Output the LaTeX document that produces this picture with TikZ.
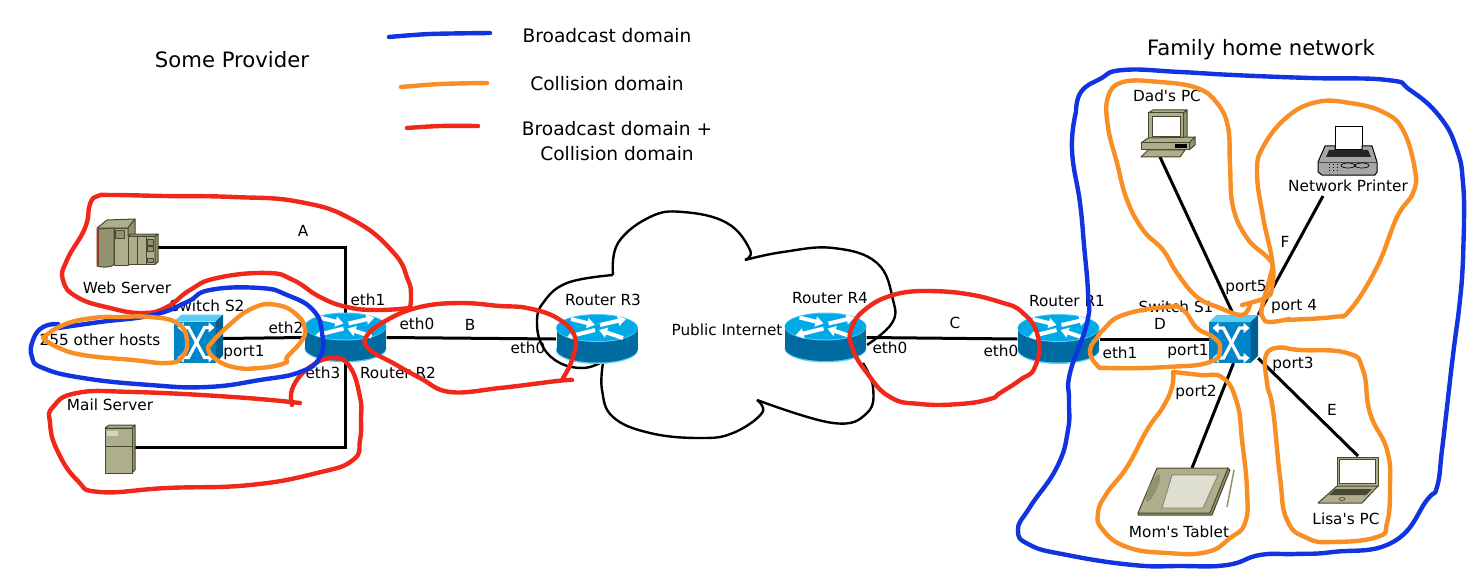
\documentclass[tikz,border=0pt]{standalone}
\usepackage{fontspec}
\setmainfont{DejaVu Sans}[Ligatures=TeXOff]
\usetikzlibrary{arrows.meta, positioning}
\definecolor{penblue}{RGB}{18,52,224}
\definecolor{penorange}{RGB}{248,142,36}
\definecolor{penred}{RGB}{240,40,28}
\definecolor{routertop}{RGB}{0,170,230}
\definecolor{routerside}{RGB}{0,107,160}
\definecolor{routeredge}{RGB}{90,205,245}
\definecolor{switchfront}{RGB}{0,132,200}
\definecolor{switchside}{RGB}{0,95,145}
\definecolor{khaki}{RGB}{174,174,140}
\definecolor{khakidark}{RGB}{146,146,112}
\definecolor{khakiline}{RGB}{72,72,48}
\tikzset{
	wire/.style={line width=3pt, line join=miter},
	pen/.style={line width=4.4pt, line cap=round, line join=round},
	cloudline/.style={line width=2.4pt},
	lbl/.style={font=\fontsize{15.3}{18}\selectfont, inner sep=0pt},
	biglbl/.style={font=\fontsize{21.2}{25}\selectfont, inner sep=0pt},
	legendlbl/.style={font=\fontsize{18.6}{25}\selectfont, inner sep=0pt, align=center},
	devbox/.style={inner sep=0pt, minimum width=#1},
	part/.style={fill=khaki, draw=khakiline, line width=1pt, line join=round},
	partdark/.style={fill=khakidark, draw=khakiline, line width=1pt, line join=round},
	whitearrow/.style={white, line width=4pt, -{Triangle[length=8pt,width=10pt]}},
	switcharrow/.style={white, line width=3.2pt, {Triangle[length=6pt,width=10pt]}-{Triangle[length=6pt,width=10pt]}},
	pics/routericon/.style={code={
		\fill [routeredge] (0,11) ellipse [x radius=41pt, y radius=14pt];
		\fill [routerside] (0,10.5) ellipse [x radius=40.5pt, y radius=13pt];
		\fill [routerside] (-40.5,-11) rectangle (40.5,10.5);
		\fill [routeredge] (0,-11) ellipse [x radius=41pt, y radius=14pt];
		\fill [routertop] (0,-11) ellipse [x radius=40.5pt, y radius=13pt];
		\draw [whitearrow] (-26,-20) -- (-2,-14);
		\draw [whitearrow] (3,-14) -- (29,-20);
		\draw [whitearrow] (-2,-9) -- (-30,-2);
		\draw [whitearrow] (26,-1) -- (2,-9);
	}},
	pics/switchicon/.style={code={
		\fill [switchfront] (-24.5,-17) rectangle (17,24);
		\fill [routeredge] (-24.5,-17) -- (-17,-24) -- (24.5,-24) -- (17,-17) -- cycle;
		\fill [switchside] (17,-17) -- (24.5,-24) -- (24.5,17) -- (17,24) -- cycle;
		\draw [switcharrow] (-21,-11) -- (-10,-11) -- (6,19) -- (16,19);
		\draw [switcharrow] (-21,19) -- (-10,19) -- (6,-11) -- (16,-11);
	}},
}

\begin{document}
\begin{tikzpicture}[x=1pt,y=-1pt]
	\useasboundingbox (0,0) rectangle (1483,583);

	% the cloud
	\draw [cloudline] plot [smooth, tension=0.7] coordinates {(613,275) (618,243) (650,217) (683,212) (727,223) (750,250) (745,260)};
	\draw [cloudline] plot [smooth, tension=0.7] coordinates {(745,260) (783,252) (833,248) (877,263) (893,300) (892,323) (867,345)};
	\draw [cloudline] plot [smooth, tension=0.7] coordinates {(863,363) (873,387) (867,413) (833,423) (757,400)};
	\draw [cloudline] plot [smooth, tension=0.7] coordinates {(757,400) (762,413) (733,433) (700,438) (650,433) (613,417) (602,390) (603,363)};
	\draw [cloudline] plot [smooth, tension=0.7] coordinates {(600,363) (583,368) (560,363) (543,347) (537,323) (543,303) (567,283) (613,275)};

	% devices
	\node [devbox=82pt, minimum height=48pt] (routerR2) at (345.5,337.5) {};
	\node [devbox=82pt, minimum height=48pt] (routerR3) at (597,339) {};
	\node [devbox=82pt, minimum height=48pt] (routerR4) at (825.5,337.5) {};
	\node [devbox=82pt, minimum height=48pt] (routerR1) at (1058.5,339) {};
	\node [devbox=49pt, minimum height=48pt] (switchS2) at (198.5,338.5) {};
	\node [devbox=49pt, minimum height=48pt] (switchS1) at (1233.5,339) {};
	\coordinate (webserver) at (156,247);
	\coordinate (mailserver) at (134,447);
	\coordinate (dadspc) at (1160,157);
	\coordinate (netprinter) at (1323,196);
	\coordinate (momstablet) at (1192,468);
	\coordinate (lisaspc) at (1358,456);

	% cables
	\draw [wire] (webserver) -| (routerR2.north);
	\draw [wire] (mailserver) -| (routerR2.south);
	\draw [wire] (switchS2.east) -- (routerR2.west);
	\draw [wire] (routerR2.east) -- (routerR3.west);
	\draw [wire] (routerR4.east) -- (routerR1.west);
	\draw [wire] (routerR1.east) -- (switchS1.west);
	\draw [wire] (dadspc) -- (switchS1.north);
	\draw [wire] (netprinter) -- (switchS1.north east);
	\draw [wire] (momstablet) -- (switchS1.south);
	\draw [wire] (lisaspc) -- ([yshift=5pt]switchS1.south east);

	\pic at (routerR2) {routericon};
	\pic at (routerR3) {routericon};
	\pic at (routerR4) {routericon};
	\pic at (routerR1) {routericon};
	\pic at (switchS2) {switchicon};
	\pic at (switchS1) {switchicon};

	% web server
	\draw [part] (97,228) -- (107,220) -- (135,219) -- (128,228) -- cycle;
	\draw [partdark] (97,229) -- (97,266) to [bend right=15] (112,266) -- (114,264) -- (114,228) -- cycle;
	\fill [penred!55!khakiline] (96.5,229) rectangle (98.5,265);
	\draw [part] (114,228) rectangle (128,265);
	\draw [partdark] (128,228) -- (135,219) -- (135,236) -- (128,236) -- cycle;
	\draw [partdark] (115,230) rectangle (124,238);
	\draw [part] (128,236) -- (131,234) -- (158,234) -- (155,236) -- cycle;
	\draw [part] (128,236) rectangle (137,264);
	\draw [part] (137,236) rectangle (146,264);
	\draw [part] (146,236) rectangle (155,264);
	\draw [partdark] (155,236) -- (158,234) -- (158,262) -- (155,264) -- cycle;
	\draw [partdark] (147,239) rectangle (153,245);
	\draw [partdark] (147,246) rectangle (153,251);
	\draw [partdark] (147,258) rectangle (153,262);

	% mail server
	\draw [part] (105,428) -- (109,425) -- (135,425) -- (132,428) -- cycle;
	\draw [partdark] (132,428) -- (135,425) -- (135,470) -- (132,473) -- cycle;
	\draw [part] (105,428) rectangle (132,473);
	\draw [khakiline, line width=1pt] (105,446.5) -- (132,446.5);
	\fill [khaki!50!white] (107,431) rectangle (118,436);

	% dad's pc
	\draw [part] (1148,113) -- (1153,110) -- (1187,110) -- (1183,113) -- cycle;
	\draw [partdark] (1183,113) -- (1187,110) -- (1187,138) -- (1183,140) -- cycle;
	\draw [part] (1148,113) rectangle (1183,140);
	\draw [khakiline, line width=1pt, fill=white] (1152,117) rectangle (1180,137);
	\draw [part] (1141,143) -- (1148,138) -- (1195,137) -- (1189,143) -- cycle;
	\draw [partdark] (1189,143) -- (1195,137) -- (1195,145) -- (1189,150) -- cycle;
	\draw [part] (1141,143) rectangle (1189,150);
	\fill [black] (1175,144) rectangle (1187,148);
	\draw [part] (1141,157) -- (1148,150) -- (1185,150) -- (1180,157) -- cycle;

	% network printer
	\draw [black, line width=1pt, fill=white] (1335,127) rectangle (1362,150);
	\draw [black, line width=1pt, fill=gray!70, line join=round] (1325,146) -- (1335,146) -- (1335,150) -- (1362,150) -- (1362,146) -- (1372,146) -- (1377,162) -- (1377,172) -- (1375,175) -- (1322,175) -- (1318,172) -- (1318,162) -- cycle;
	\fill [black!85] (1329,150) -- (1368,150) -- (1371,157) -- (1326,157) -- cycle;
	\draw [black!70, line width=1pt] (1318,162) -- (1377,162);
	\draw [black, line width=1pt, dotted] (1329,164) -- (1329,173);
	\draw [black, line width=1pt, dotted] (1333,164) -- (1333,173);
	\draw [black, line width=1pt, dotted] (1337,164) -- (1337,173);
	\draw [black, line width=.7pt] (1348,165.5) ellipse [x radius=7pt, y radius=2.5pt];
	\draw [black, line width=.7pt] (1362,165.5) ellipse [x radius=7pt, y radius=2.5pt];

	% mom's tablet
	\draw [partdark] (1228,468) -- (1230,470) -- (1212,515) -- (1138,515) -- (1138,513) -- cycle;
	\draw [part] (1157,468) -- (1228,468) -- (1210,513) -- (1138,513) -- cycle;
	\fill [khakidark, rotate around={-25:(1153,488)}] (1153,488) ellipse [x radius=4pt, y radius=15pt];
	\draw [khakiline!70, line width=.8pt, fill=khaki!40!white] (1172,475) -- (1218,475) -- (1203,508) -- (1162,508) -- cycle;
	\draw [khakidark, line width=1.5pt] (1234,470) -- (1227,507);

	% lisa's pc
	\draw [part] (1337,457) rectangle (1378,486);
	\draw [khakiline, line width=1pt, fill=white] (1339.5,459.5) rectangle (1375.5,483);
	\draw [part] (1337,486) -- (1378,486) -- (1362,503) -- (1318,503) -- cycle;
	\fill [khakiline] (1335,489) -- (1372,489) -- (1366,495) -- (1329,495) -- cycle;
	\draw [khakiline, line width=.6pt] (1342,499) ellipse [x radius=3pt, y radius=1.5pt];

	% labels
	\node [biglbl] (provider) at (232,60) {Some Provider};
	\node [biglbl] (family) at (1261,50) {Family home network};
	\node [legendlbl] (legendbcast) at (607,36) {Broadcast domain};
	\node [legendlbl] (legendcoll) at (607,84) {Collision domain};
	\node [legendlbl] (legendboth) at (617,141.5) {Broadcast domain +\\Collision domain};

	\node [lbl] (nwebserver) at (127,288) {Web Server};
	\node [lbl] (nswitchS2) at (207,306) {Switch S2};
	\node [lbl] (nhosts) at (100,340) {255 other hosts};
	\node [lbl] (nportone) at (244,353) {port1};
	\node [lbl] (netha) at (286,328) {eth2};
	\node [lbl] (nethb) at (368,300) {eth1};
	\node [lbl] (nethc) at (417,324) {eth0};
	\node [lbl] (nB) at (470,325) {B};
	\node [lbl] (nethd) at (528,348) {eth0};
	\node [lbl] (nrouterR2) at (398,373) {Router R2};
	\node [lbl] (nethe) at (323,373) {eth3};
	\node [lbl] (nmailserver) at (110,405) {Mail Server};
	\node [lbl] (nA) at (303,231) {A};
	\node [lbl] (nrouterR3) at (603,300) {Router R3};
	\node [lbl] (ninternet) at (727,330) {Public Internet};
	\node [lbl] (nrouterR4) at (830,298) {Router R4};
	\node [lbl] (nC) at (955,323) {C};
	\node [lbl] (nethf) at (890,348) {eth0};
	\node [lbl] (nethg) at (1001,351) {eth0};
	\node [lbl] (nrouterR1) at (1067,301) {Router R1};
	\node [lbl] (nswitchS1) at (1176,307) {Switch S1};
	\node [lbl] (nD) at (1160,324) {D};
	\node [lbl] (nethh) at (1120,353) {eth1};
	\node [lbl] (nporta) at (1188,352) {port1};
	\node [lbl] (nportb) at (1246,288) {port5};
	\node [lbl] (nF) at (1285,242) {F};
	\node [lbl] (nportc) at (1294,307) {port 4};
	\node [lbl] (ndadspc) at (1167,96) {Dad's PC};
	\node [lbl] (nprinter) at (1348,186) {Network Printer};
	\node [lbl] (nportd) at (1293,364) {port3};
	\node [lbl] (nE) at (1332,410) {E};
	\node [lbl] (nporte) at (1196,392) {port2};
	\node [lbl] (ntablet) at (1179,532) {Mom's Tablet};
	\node [lbl] (nlisaspc) at (1346,519) {Lisa's PC};

	% legend strokes
	\draw [pen, penblue] plot [smooth] coordinates {(389,37) (430,34) (490,33)};
	\draw [pen, penorange] plot [smooth] coordinates {(401,87) (440,84) (487,83)};
	\draw [pen, penred] plot [smooth] coordinates {(407,128) (440,126) (478,126)};

	% hand drawn domains
	\draw [pen, penred] plot [smooth, tension=0.8] coordinates {(410,308) (411,295) (408,280) (393,252) (353,220) (300,202) (233,197) (165,196) (112,195) (98,196) (90,204) (85,228) (67,260) (63,280) (77,297) (110,308) (143,313) (167,307) (190,290) (217,278) (267,273) (293,280) (320,297) (347,307) (377,310) (410,308)};
	\draw [pen, penred] plot [smooth, tension=0.8] coordinates {(300,403) (233,397) (133,392) (77,393) (53,407) (50,423) (57,450) (77,480) (100,492) (167,488) (250,485) (317,473) (353,460) (360,440) (361,418) (360,397) (350,367) (333,358) (310,367) (293,387) (292,405)};
	\draw [pen, penred] plot [smooth, tension=0.7] coordinates {(572,380) (557,381) (500,388) (450,392) (420,378) (393,363) (370,350) (366,337) (387,320) (420,307) (460,303) (500,306) (527,308) (557,318) (575,337) (572,360) (563,378)};
	\draw [pen, penred] plot [smooth, tension=0.8] coordinates {(920,291) (893,295) (867,308) (852,327) (852,347) (867,373) (890,397) (920,404) (960,404) (990,399) (1000,393) (1020,380) (1035,367) (1038,337) (1023,313) (1000,302) (960,293) (920,291)};
	\draw [pen, penblue] plot [smooth, tension=0.8] coordinates {(58,324) (43,327) (33,340) (32,357) (43,368) (83,378) (150,385) (207,387) (260,380) (300,372) (320,357) (322,333) (313,310) (287,295) (260,288) (210,290) (187,302) (153,315) (100,322) (58,328)};
	\draw [pen, penblue] plot [smooth, tension=0.8] coordinates {(1076,112) (1081,92) (1100,79) (1123,70) (1180,72) (1233,75) (1310,78) (1387,80) (1410,90) (1440,117) (1457,150) (1463,183) (1464,225) (1463,260) (1460,300) (1453,355) (1447,407) (1442,450) (1437,487) (1427,500) (1393,542) (1333,552) (1295,554) (1260,555) (1227,565) (1180,566) (1133,565) (1067,555) (1030,545) (1018,530) (1030,507) (1057,467) (1068,430) (1069,400) (1070,373) (1087,323) (1088,293) (1084,245) (1080,203) (1072,150) (1076,112)};
	\draw [pen, penorange] plot [smooth, tension=0.8] coordinates {(43,338) (63,325) (93,318) (120,317) (150,317) (177,323) (187,340) (182,357) (167,363) (133,360) (83,355) (57,347) (43,338)};
	\draw [pen, penorange] plot [smooth, tension=0.8] coordinates {(208,347) (227,327) (253,308) (277,305) (297,315) (305,330) (300,343) (287,357) (285,363) (260,368) (233,367) (213,357) (208,347)};
	\draw [pen, penorange] plot [smooth, tension=0.7] coordinates {(1242,305) (1267,297) (1272,287) (1273,267) (1267,257) (1247,238) (1233,207) (1230,165) (1228,127) (1217,103) (1197,88) (1160,82) (1123,82) (1108,97) (1108,127) (1117,163) (1127,200) (1143,230) (1163,250) (1177,273) (1197,297) (1220,308) (1240,315) (1248,310) (1250,303)};
	\draw [pen, penorange] plot [smooth, tension=0.7] coordinates {(1289,319) (1270,322) (1263,318) (1262,307) (1270,277) (1272,260) (1263,217) (1257,173) (1263,147) (1287,117) (1317,102) (1350,103) (1383,112) (1403,130) (1415,170) (1413,193) (1397,217) (1377,267) (1350,310) (1333,317) (1283,320)};
	\draw [pen, penorange] plot [smooth, tension=0.8] coordinates {(1098,337) (1090,350) (1097,365) (1110,368) (1167,367) (1210,362) (1220,348) (1213,337) (1197,328) (1183,310) (1167,307) (1123,315) (1103,330) (1098,337)};
	\draw [pen, penorange] plot [smooth, tension=0.8] coordinates {(1173,372) (1200,375) (1223,378) (1237,403) (1242,440) (1247,490) (1245,523) (1230,538) (1207,552) (1167,553) (1127,547) (1103,530) (1098,513) (1107,493) (1127,467) (1147,430) (1163,407) (1172,387) (1173,372)};
	\draw [pen, penorange] plot [smooth, tension=0.8] coordinates {(1287,348) (1267,353) (1267,383) (1273,410) (1280,477) (1287,520) (1307,538) (1333,542) (1377,537) (1387,523) (1390,487) (1387,450) (1370,413) (1363,370) (1347,353) (1300,350) (1287,348)};
\end{tikzpicture}
\end{document}
